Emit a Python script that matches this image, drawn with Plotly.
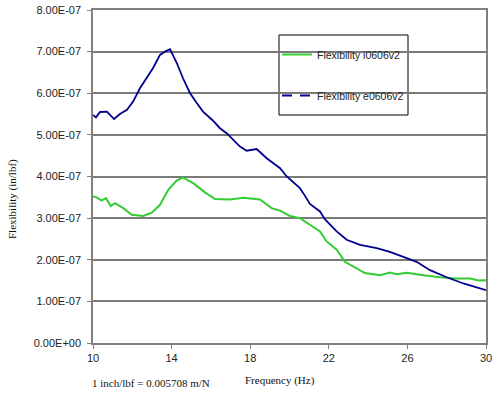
import plotly.graph_objects as go

# Frequency (Hz) and flexibility (in/lbf, in units of 1e-7)
freq_e = [10.0, 10.15, 10.36, 10.71, 11.07, 11.37, 11.73, 12.04, 12.39, 12.75, 13.05, 13.41,
          13.66, 13.92, 14.27, 14.58, 14.94, 15.29, 15.60, 16.11, 16.46, 16.80, 17.48, 17.82,
          18.33, 18.84, 19.52, 19.86, 20.53, 20.70, 21.04, 21.55, 21.81, 22.40, 22.91, 23.59,
          24.44, 25.11, 25.79, 26.47, 27.15, 28.00, 28.85, 29.53, 30.0]
flex_e = [5.48, 5.42, 5.55, 5.56, 5.38, 5.50, 5.60, 5.80, 6.12, 6.40, 6.60, 6.92,
          7.00, 7.06, 6.72, 6.36, 6.00, 5.76, 5.56, 5.34, 5.16, 5.04, 4.72, 4.62,
          4.66, 4.44, 4.20, 4.00, 3.72, 3.60, 3.34, 3.16, 2.97, 2.68, 2.48, 2.36,
          2.28, 2.19, 2.07, 1.95, 1.75, 1.58, 1.43, 1.34, 1.27]

freq_i = [10.0, 10.19, 10.44, 10.66, 10.90, 11.12, 11.54, 11.97, 12.56, 12.99, 13.41, 13.83,
          14.26, 14.56, 15.10, 15.70, 16.21, 16.97, 17.65, 18.50, 19.09, 19.52, 20.03, 20.53,
          21.04, 21.55, 21.89, 22.40, 22.82, 23.42, 23.84, 24.61, 25.11, 25.46, 25.96, 26.81,
          27.66, 28.51, 29.19, 29.61, 30.0]
flex_i = [3.52, 3.50, 3.42, 3.48, 3.29, 3.36, 3.24, 3.08, 3.05, 3.13, 3.32, 3.68,
          3.90, 3.98, 3.84, 3.62, 3.46, 3.45, 3.49, 3.45, 3.24, 3.18, 3.05, 3.00,
          2.84, 2.68, 2.44, 2.24, 1.95, 1.80, 1.68, 1.63, 1.69, 1.65, 1.69, 1.63,
          1.58, 1.55, 1.55, 1.50, 1.51]
UNIT = 1e-7

y_tick_vals = [0, 1, 2, 3, 4, 5, 6, 7, 8]
y_tick_text = ["0.00E+00", "1.00E-07", "2.00E-07", "3.00E-07", "4.00E-07",
               "5.00E-07", "6.00E-07", "7.00E-07", "8.00E-07"]
x_tick_vals = [10, 14, 18, 22, 26, 30]

name_i = "Flexibility i0606v2"
name_e = "Flexibility e0606v2"

GREEN = "#33cc33"
BLUE = "#000090"
SERIF = "Liberation Serif, Times New Roman, serif"

# plot area in page pixels
L, R, T, B = 93, 486, 10, 343
W, H = 500, 399


def px_x(p):
    return (p - L) / (R - L)


def px_y(p):
    return (B - p) / (B - T)


fig = go.Figure()
fig.add_trace(go.Scatter(x=freq_i, y=[v * UNIT for v in flex_i], mode="lines",
                         line=dict(color=GREEN, width=2), name=name_i,
                         legendgroup="i"))
fig.add_trace(go.Scatter(x=freq_e, y=[v * UNIT for v in flex_e], mode="lines",
                         line=dict(color=BLUE, width=1.8), name=name_e,
                         showlegend=False, legendgroup="e"))
# legend entry showing the dashed series style
fig.add_trace(go.Scatter(x=[None], y=[None], mode="lines",
                         line=dict(color=BLUE, width=2, dash="10px,8px"), name=name_e,
                         legendgroup="e"))

fig.update_layout(
    width=W, height=H,
    margin=dict(l=L, r=W - R, t=T, b=H - B, pad=0),
    paper_bgcolor="white", plot_bgcolor="white",
    font=dict(family="Arial, Liberation Sans, sans-serif", size=11, color="#222222"),
    showlegend=True,
    legend=dict(x=px_x(277), y=px_y(40), xanchor="left", yanchor="top",
                bgcolor="rgba(0,0,0,0)", borderwidth=0,
                font=dict(size=10.5, color="#222222"),
                traceorder="grouped", tracegroupgap=22),
    xaxis=dict(range=[10, 30], tickvals=x_tick_vals, ticks="outside", ticklen=4,
               tickcolor="#808080", showgrid=False, zeroline=False, automargin=False,
               showline=True, linecolor="#808080", linewidth=1.5, mirror=True),
    yaxis=dict(range=[0, 8 * UNIT], tickvals=[v * UNIT for v in y_tick_vals],
               ticktext=y_tick_text, ticks="outside", ticklen=4, tickcolor="#808080",
               ticklabelstandoff=4, automargin=False,
               showgrid=True, gridcolor="#7a7a7a", gridwidth=1.5, zeroline=False,
               showline=True, linecolor="#808080", linewidth=1.5, mirror=True),
    shapes=[
        dict(type="rect", xref="paper", yref="paper",
             x0=px_x(279), x1=px_x(408), y0=px_y(115), y1=px_y(35),
             fillcolor="white", line=dict(color="black", width=1), layer="between"),
    ],
    annotations=[
        dict(text="Flexibility (in/lbf)", xref="paper", yref="paper",
             x=px_x(12), y=px_y(199), textangle=-90, showarrow=False,
             xanchor="center", yanchor="middle",
             font=dict(family=SERIF, size=11, color="#111111")),
        dict(text="Frequency (Hz)", xref="paper", yref="paper",
             x=px_x(280), y=px_y(380), showarrow=False,
             xanchor="center", yanchor="middle",
             font=dict(family=SERIF, size=11, color="#111111")),
        dict(text="1 inch/lbf = 0.005708 m/N", xref="paper", yref="paper",
             x=px_x(151), y=px_y(383), showarrow=False,
             xanchor="center", yanchor="middle",
             font=dict(family=SERIF, size=11, color="#111111")),
    ],
)

fig.write_html("out.html", config={"displayModeBar": False},
               post_script="document.body.style.margin='0';")
